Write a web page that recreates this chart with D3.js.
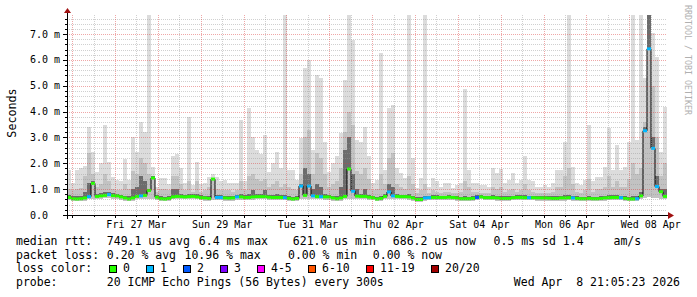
<!DOCTYPE html>
<html>
<head>
<meta charset="utf-8">
<script src="https://cdn.jsdelivr.net/npm/d3@7"></script>
<style>
body { margin: 0; background: #fff; }
svg { display: block; }
text { font-family: "DejaVu Sans Mono", monospace; fill: #000; white-space: pre; }
</style>
</head>
<body>
<div id="chart"></div>
<script>
/* 150 buckets over 14 days, median rtt and smoke levels in ms */
const median = [
  0.68,0.63,0.62,0.63,0.66,0.71,1.22,0.72,0.74,0.76,
  0.79,0.75,0.74,0.70,0.66,0.62,0.66,0.72,0.74,0.76,
  0.95,1.43,0.69,0.63,0.62,0.64,0.70,0.72,0.71,0.70,
  0.71,0.72,0.70,0.67,0.66,0.64,1.39,0.68,0.68,0.66,
  0.65,0.66,0.70,0.70,0.68,0.68,0.70,0.71,0.71,0.71,
  0.69,0.68,0.68,0.68,0.67,0.64,0.62,0.64,1.12,0.76,
  1.12,0.74,0.71,0.71,0.70,0.70,0.66,0.63,0.66,0.72,
  1.78,0.92,0.73,0.72,0.72,0.69,0.67,0.62,0.64,0.72,
  0.89,0.74,0.72,0.71,0.71,0.70,0.66,0.60,0.60,0.66,
  0.67,0.68,0.68,0.68,0.68,0.69,0.68,0.66,0.63,0.63,
  0.63,0.64,0.68,0.70,0.67,0.67,0.67,0.66,0.64,0.64,
  0.64,0.67,0.68,0.68,0.67,0.67,0.67,0.66,0.66,0.66,
  0.65,0.64,0.64,0.66,0.66,0.67,0.66,0.64,0.63,0.63,
  0.64,0.63,0.63,0.64,0.66,0.67,0.68,0.68,0.67,0.64,
  0.62,0.62,0.63,0.74,3.26,6.43,2.58,1.10,0.90,0.72
];

/* index into lossLabels */
const loss = [
  0,0,0,0,0,1,0,0,0,0,
  1,0,0,0,0,0,0,0,1,0,
  0,0,0,0,0,0,0,0,0,0,
  0,0,0,0,0,0,0,1,1,0,
  0,0,1,0,0,0,0,0,0,0,
  0,0,0,0,1,0,0,0,1,0,
  1,1,0,1,0,0,0,0,0,0,
  0,1,0,0,0,0,0,0,0,0,
  1,1,0,0,0,0,0,0,0,1,
  1,0,0,0,0,0,0,0,0,0,
  0,0,2,0,0,0,0,0,0,0,
  0,0,0,0,0,1,0,0,0,0,
  0,0,0,0,0,0,1,0,0,0,
  0,0,0,0,0,0,0,0,1,0,
  0,0,1,0,1,1,1,1,0,0
];

const smokeMax = [
  1.74,1.24,1.74,1.80,1.90,3.39,2.45,1.68,2.00,3.48,
  2.06,1.48,1.35,1.30,2.17,1.35,3.03,2.45,3.61,3.20,
  7.74,1.87,1.10,1.42,1.42,1.20,2.27,2.38,1.80,1.24,
  3.81,1.17,2.06,1.20,1.24,1.48,1.60,1.48,1.30,1.35,
  1.24,1.24,1.24,3.68,1.30,4.14,3.03,2.52,2.38,3.10,
  1.68,2.00,2.45,1.80,7.74,1.74,1.74,1.35,2.97,5.68,
  6.00,2.52,5.42,5.29,2.84,1.68,2.00,2.27,3.16,5.23,
  7.74,6.77,2.90,2.84,3.42,2.27,1.24,1.35,6.27,1.74,
  4.14,4.26,1.80,1.61,1.42,7.74,2.20,1.03,1.42,7.74,
  1.10,1.42,1.30,1.10,1.24,1.24,1.03,1.17,1.24,4.87,
  1.74,1.24,1.24,1.17,1.17,1.10,1.80,1.61,1.77,1.24,
  1.35,1.61,1.24,1.35,2.28,1.35,1.30,1.10,1.10,1.17,
  1.10,1.24,1.74,1.74,2.84,7.74,1.87,1.24,1.17,1.35,
  3.48,1.30,1.48,1.48,1.87,3.35,1.74,2.71,1.74,1.87,
  2.84,7.74,2.90,7.74,5.29,7.74,7.04,6.10,2.45,4.19
];

const smokeHi = [
  1.00,0.95,1.00,1.05,1.50,2.40,1.60,1.10,1.20,1.60,
  1.30,1.00,0.95,0.95,1.20,1.00,1.70,1.60,2.20,2.00,
  1.60,1.50,0.90,1.00,1.00,0.95,1.50,1.50,1.20,0.95,
  1.30,0.90,1.30,0.90,0.95,1.10,1.40,1.00,0.95,0.95,
  0.95,0.90,0.95,1.30,0.95,1.50,1.60,1.40,1.30,1.40,
  1.10,1.20,1.30,1.10,1.20,1.10,1.00,0.95,1.60,3.00,
  3.30,1.60,2.40,2.20,1.60,1.10,1.20,1.30,1.80,3.20,
  4.00,3.50,1.70,1.60,1.80,1.40,0.95,1.00,1.60,1.20,
  2.20,2.40,1.20,1.10,1.00,1.50,1.20,0.85,0.95,1.20,
  0.85,0.95,0.90,0.85,0.90,0.90,0.85,0.85,0.90,1.30,
  1.10,0.90,0.90,0.85,0.85,0.85,1.10,1.00,1.10,0.90,
  0.95,1.00,0.90,0.95,1.20,0.95,0.90,0.85,0.85,0.85,
  0.85,0.90,1.10,1.10,1.50,1.80,1.20,0.90,0.85,0.95,
  1.40,0.90,1.00,1.00,1.10,1.50,1.10,1.30,1.10,1.10,
  1.40,2.00,1.60,1.80,3.60,7.50,5.00,3.00,1.50,2.00
];

const smokeDark = [
  0.76,0.72,0.72,0.72,0.90,1.25,1.30,0.82,0.84,0.90,
  0.90,0.84,0.82,0.78,0.74,0.72,1.00,1.10,1.50,1.30,
  1.00,1.50,0.78,0.72,0.70,0.72,1.00,1.00,0.80,0.78,
  0.80,0.80,0.80,0.76,0.74,0.74,1.45,0.78,0.76,0.74,
  0.73,0.74,0.78,0.80,0.76,0.80,0.95,0.82,0.82,0.95,
  0.78,0.78,0.80,0.78,0.76,0.72,0.70,0.72,1.20,1.80,
  1.60,1.00,1.20,1.10,0.80,0.78,0.74,0.72,1.10,2.50,
  3.00,1.60,1.00,0.82,1.00,0.78,0.75,0.70,0.74,0.80,
  1.20,1.10,0.80,0.78,0.78,0.80,0.74,0.68,0.68,0.74,
  0.75,0.76,0.76,0.75,0.75,0.76,0.75,0.73,0.70,0.72,
  0.70,0.72,0.76,0.78,0.74,0.74,0.76,0.74,0.72,0.72,
  0.72,0.75,0.76,0.76,0.76,0.75,0.75,0.74,0.74,0.74,
  0.73,0.72,0.74,0.74,0.76,0.78,0.75,0.72,0.70,0.70,
  0.74,0.70,0.71,0.72,0.74,0.76,0.76,0.77,0.75,0.72,
  0.70,0.74,0.72,0.90,3.40,7.74,3.00,1.50,1.00,1.00
];

const smokeMin = [
  0.58,0.54,0.53,0.54,0.56,0.60,0.62,0.60,0.62,0.64,
  0.66,0.63,0.62,0.59,0.56,0.53,0.56,0.60,0.62,0.63,
  0.62,0.60,0.58,0.54,0.53,0.55,0.60,0.61,0.60,0.60,
  0.60,0.61,0.60,0.57,0.56,0.55,0.58,0.58,0.58,0.56,
  0.55,0.56,0.59,0.59,0.58,0.58,0.59,0.60,0.60,0.60,
  0.59,0.58,0.58,0.58,0.57,0.55,0.53,0.55,0.60,0.62,
  0.62,0.62,0.60,0.60,0.59,0.59,0.56,0.54,0.56,0.60,
  0.62,0.62,0.62,0.61,0.61,0.59,0.57,0.53,0.55,0.61,
  0.62,0.62,0.61,0.60,0.60,0.59,0.56,0.51,0.51,0.56,
  0.57,0.58,0.58,0.58,0.58,0.59,0.58,0.56,0.54,0.54,
  0.54,0.55,0.58,0.60,0.57,0.57,0.57,0.56,0.55,0.55,
  0.55,0.57,0.58,0.58,0.57,0.57,0.57,0.56,0.56,0.56,
  0.55,0.55,0.55,0.56,0.56,0.57,0.56,0.55,0.54,0.54,
  0.55,0.54,0.54,0.55,0.56,0.57,0.58,0.58,0.57,0.55,
  0.53,0.53,0.54,0.62,0.66,0.68,0.66,0.64,0.62,0.60
];

const lossLabels = ["0", "1", "2", "3", "4-5", "6-10", "11-19", "20/20"];
const lossColors = ["#26ff00", "#00b8ff", "#0059ff", "#7e00ff", "#ff00ff", "#ff5500", "#ff0000", "#a10000"];

const yTicks = [0, 1, 2, 3, 4, 5, 6, 7];
const xLabelDays = ["2026-03-27", "2026-03-29", "2026-03-31", "2026-04-02", "2026-04-04", "2026-04-06", "2026-04-08"];
const xLabels = ["Fri 27 Mar", "Sun 29 Mar", "Tue 31 Mar", "Thu 02 Apr", "Sat 04 Apr", "Mon 06 Apr", "Wed 08 Apr"];

const rttStats = ["median rtt:", "749.1 us avg", "6.4 ms max", "621.0 us min", "686.2 us now", "0.5 ms sd", "1.4", "am/s"];
const lossStats = ["packet loss:", "0.20 % avg", "10.96 % max", "0.00 % min", "0.00 % now"];
const probeText = ["probe:", "20 ICMP Echo Pings (56 Bytes) every 300s"];
const stampText = "Wed Apr  8 21:05:23 2026";

const endTime = Date.UTC(2026, 3, 8, 21, 5, 23);
const spanMs = 14 * 86400000;
const startTime = endTime - spanMs;
const stepMs = spanMs / median.length;

const W = 697, H = 297;
const pLeft = 67, pRight = 667, pTop = 15, pBottom = 215;

const svg = d3.select("#chart").append("svg")
  .attr("width", W).attr("height", H);

const x = d3.scaleUtc().domain([new Date(startTime), new Date(endTime)]).range([pLeft, pRight]);
const y = d3.scaleLinear().domain([0, 7.74]).range([pBottom, pTop]);

const bx0 = i => x(new Date(startTime + i * stepMs));
const bx1 = i => x(new Date(startTime + (i + 1) * stepMs));

/* smoke */
const layers = [
  { hi: smokeMax, lo: smokeMin, color: "#dcdcdc" },
  { hi: smokeHi, lo: smokeMin, color: "#c2c2c2" },
  { hi: smokeDark, lo: median, color: "#6c6c6c" }
];
const smoke = svg.append("g").attr("shape-rendering", "crispEdges");
layers.forEach(l => {
  smoke.selectAll(null).data(median).enter().append("rect")
    .attr("x", (d, i) => bx0(i))
    .attr("width", (d, i) => bx1(i) - bx0(i))
    .attr("y", (d, i) => y(l.hi[i]))
    .attr("height", (d, i) => Math.max(0, y(l.lo[i]) - y(l.hi[i])))
    .attr("fill", l.color);
});

/* median: thin black step line + loss coloured segments */
const pts = median.map((d, i) => [startTime + i * stepMs, d]);
pts.push([endTime, median[median.length - 1]]);
svg.append("path")
  .attr("d", d3.line().x(p => x(new Date(p[0]))).y(p => y(p[1])).curve(d3.curveStepAfter)(pts))
  .attr("fill", "none").attr("stroke", "#000").attr("stroke-width", 1);

svg.append("g").selectAll("rect").data(median).enter().append("rect")
  .attr("x", (d, i) => bx0(i))
  .attr("width", (d, i) => bx1(i) - bx0(i))
  .attr("y", d => y(d) - 1.5)
  .attr("height", 3)
  .attr("fill", (d, i) => lossColors[loss[i]]);

/* grid on top */
const grid = svg.append("g").attr("shape-rendering", "crispEdges");
const minorY = d3.range(1, 39).map(k => k * 0.2).filter(v => Math.abs(v - Math.round(v)) > 0.01);
grid.selectAll(".hmin").data(minorY).enter().append("line")
  .attr("x1", pLeft).attr("x2", pRight)
  .attr("y1", d => Math.round(y(d)) + 0.5).attr("y2", d => Math.round(y(d)) + 0.5)
  .attr("stroke", "rgba(150,150,150,0.45)").attr("stroke-dasharray", "1,1");
const hours12 = d3.utcHour.every(12).range(new Date(startTime), new Date(endTime));
const noons = hours12.filter(d => d.getUTCHours() === 12);
grid.selectAll(".vmin").data(noons).enter().append("line")
  .attr("x1", d => Math.round(x(d)) + 0.5).attr("x2", d => Math.round(x(d)) + 0.5)
  .attr("y1", pTop).attr("y2", pBottom)
  .attr("stroke", "rgba(150,150,150,0.45)").attr("stroke-dasharray", "1,1");
grid.selectAll(".hmaj").data(yTicks.slice(1)).enter().append("line")
  .attr("x1", pLeft).attr("x2", pRight)
  .attr("y1", d => Math.round(y(d)) + 0.5).attr("y2", d => Math.round(y(d)) + 0.5)
  .attr("stroke", "rgba(220,60,60,0.45)").attr("stroke-dasharray", "1,1");
const days = d3.utcDay.range(new Date(startTime), new Date(endTime));
grid.selectAll(".vmaj").data(days).enter().append("line")
  .attr("x1", d => Math.round(x(d)) + 0.5).attr("x2", d => Math.round(x(d)) + 0.5)
  .attr("y1", pTop).attr("y2", pBottom)
  .attr("stroke", "rgba(220,60,60,0.45)").attr("stroke-dasharray", "1,1");

/* ticks */
const ticks = svg.append("g").attr("shape-rendering", "crispEdges").attr("stroke", "#000");
ticks.selectAll(".ty").data(yTicks).enter().append("line")
  .attr("x1", pLeft - 4).attr("x2", pLeft)
  .attr("y1", d => Math.round(y(d)) + 0.5).attr("y2", d => Math.round(y(d)) + 0.5);
ticks.selectAll(".tym").data(minorY).enter().append("line")
  .attr("x1", pLeft - 2).attr("x2", pLeft)
  .attr("y1", d => Math.round(y(d)) + 0.5).attr("y2", d => Math.round(y(d)) + 0.5);
ticks.selectAll(".tx").data(days).enter().append("line")
  .attr("x1", d => Math.round(x(d)) + 0.5).attr("x2", d => Math.round(x(d)) + 0.5)
  .attr("y1", pBottom).attr("y2", pBottom + 3);
ticks.selectAll(".txm").data(noons).enter().append("line")
  .attr("x1", d => Math.round(x(d)) + 0.5).attr("x2", d => Math.round(x(d)) + 0.5)
  .attr("y1", pBottom).attr("y2", pBottom + 2);

/* axes with arrows */
svg.append("line").attr("x1", pLeft - 4).attr("x2", 669).attr("y1", pBottom + 0.5).attr("y2", pBottom + 0.5)
  .attr("stroke", "#000").attr("shape-rendering", "crispEdges");
svg.append("line").attr("x1", pLeft + 0.5).attr("x2", pLeft + 0.5).attr("y1", pBottom + 4).attr("y2", 12)
  .attr("stroke", "#000").attr("shape-rendering", "crispEdges");
svg.append("path").attr("d", `M${pLeft - 3},13 L${pLeft + 0.5},8 L${pLeft + 4},13 Z`).attr("fill", "#a01010");
svg.append("path").attr("d", `M668,212 L674,215.5 L668,219 Z`).attr("fill", "#a01010");

/* axis labels */
svg.append("g").selectAll("text").data(yTicks).enter().append("text")
  .attr("x", 30).attr("y", d => y(d) + 3.5)
  .attr("font-size", "10px")
  .text(d => d === 0 ? "0.0" : d.toFixed(1) + " m");

svg.append("g").selectAll("text").data(xLabelDays).enter().append("text")
  .attr("x", d => x(new Date(Date.parse(d + "T12:00:00Z"))))
  .attr("y", 227.5)
  .attr("text-anchor", "middle")
  .attr("font-size", "10px")
  .text((d, i) => xLabels[i]);

svg.append("text")
  .attr("transform", "translate(15.5,113) rotate(-90)")
  .attr("text-anchor", "middle")
  .attr("font-size", "11.7px")
  .text("Seconds");

svg.append("text")
  .attr("transform", "translate(684.5,5) rotate(90)")
  .attr("font-size", "8.3px")
  .style("fill", "#b0b0b0")
  .text("RRDTOOL / TOBI OETIKER");

/* legend */
const lg = svg.append("g").attr("font-size", "11.5px");
const rttX = [16, 106.8, 198.8, 292.8, 392.8, 493.5, 562.8, 613.5];
const lossX = [16, 106.8, 184.5, 288, 372.8];
rttStats.forEach((t, i) => lg.append("text").attr("x", rttX[i]).attr("y", 245).text(t));
lossStats.forEach((t, i) => lg.append("text").attr("x", lossX[i]).attr("y", 258.7).text(t));
lg.append("text").attr("x", 16).attr("y", 272.3).text("loss color:");
let bx = 108.5;
lossLabels.forEach((t, i) => {
  lg.append("rect").attr("x", bx + 0.5).attr("y", 265.5).attr("width", 7).attr("height", 7)
    .attr("fill", lossColors[i]).attr("stroke", "#000").attr("shape-rendering", "crispEdges");
  lg.append("text").attr("x", bx + 14.5).attr("y", 272.3).text(t);
  bx += 30 + 7 * t.length;
});
lg.append("text").attr("x", 16).attr("y", 286).text(probeText[0]);
lg.append("text").attr("x", 106.8).attr("y", 286).text(probeText[1]);
lg.append("text").attr("x", 680).attr("y", 286).attr("text-anchor", "end").text(stampText);
</script>
</body>
</html>
